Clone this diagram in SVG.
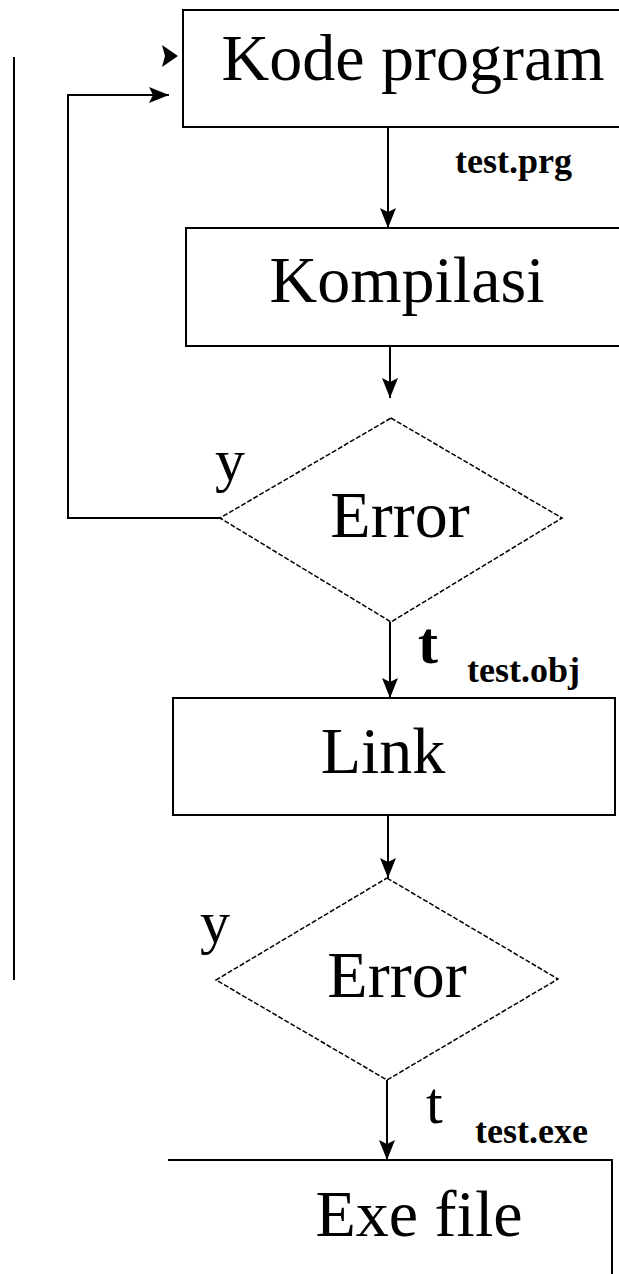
<svg xmlns="http://www.w3.org/2000/svg" width="619" height="1274" viewBox="0 0 619 1274">
  <style>
    .box { fill: #fff; stroke: #000; stroke-width: 2; }
    .dec { fill: #fff; stroke: #000; stroke-width: 1.5; stroke-dasharray: 5 2; }
    .ln { fill: none; stroke: #000; stroke-width: 2; }
    .big { font-family: "Liberation Serif", "Times New Roman", serif; font-size: 66px; fill: #000; text-anchor: middle; }
    .lab { font-family: "Liberation Serif", "Times New Roman", serif; font-size: 60px; fill: #000; }
    .file { font-family: "Liberation Serif", "Times New Roman", serif; font-size: 36px; font-weight: bold; fill: #000; }
  </style>
  <defs>
    <marker id="ah" viewBox="0 0 20 16" refX="20" refY="8" markerWidth="20" markerHeight="16" markerUnits="userSpaceOnUse" orient="auto">
      <path d="M0,0 L20,8 L0,16 L4,8 Z" fill="#000"/>
    </marker>
  </defs>
  <rect width="619" height="1274" fill="#fff"/>

  <g id="connectors">
    <!-- side rule on the far left -->
    <line class="ln" x1="14" y1="57" x2="14" y2="980"/>
    <!-- loose arrowhead beside the first box -->
    <path d="M162,45 L178,56 L162,67 L165,56 Z" fill="#000"/>
    <!-- error loop back to the source step -->
    <polyline class="ln" points="220,518 68,518 68,95 169,95" marker-end="url(#ah)"/>
    <line class="ln" x1="388" y1="127" x2="388" y2="228" marker-end="url(#ah)"/>
    <line class="ln" x1="390" y1="346" x2="390" y2="398" marker-end="url(#ah)"/>
    <line class="ln" x1="390" y1="622" x2="390" y2="698" marker-end="url(#ah)"/>
    <line class="ln" x1="388" y1="815" x2="388" y2="878" marker-end="url(#ah)"/>
    <line class="ln" x1="387" y1="1080" x2="387" y2="1160" marker-end="url(#ah)"/>
  </g>

  <g id="kode-program">
    <rect class="box" x="183" y="10" width="460" height="117"/>
    <text class="big" x="413" y="80">Kode program</text>
  </g>
  <text class="file" x="455" y="173">test.prg</text>

  <g id="kompilasi">
    <rect class="box" x="186" y="228" width="460" height="118"/>
    <text class="big" x="407" y="302">Kompilasi</text>
  </g>

  <g id="error-1">
    <polygon class="dec" points="391,418 562,518 391,622 220,518"/>
    <text class="big" x="400" y="537">Error</text>
  </g>
  <text class="lab" x="215" y="480">y</text>
  <text class="lab" x="418" y="663" font-weight="bold">t</text>
  <text class="file" x="467" y="682">test.obj</text>

  <g id="link">
    <rect class="box" x="173" y="698" width="442" height="117"/>
    <text class="big" x="383" y="773">Link</text>
  </g>

  <g id="error-2">
    <polygon class="dec" points="387,878 558,979 387,1080 216,980"/>
    <text class="big" x="397" y="997">Error</text>
  </g>
  <text class="lab" x="200" y="942">y</text>
  <text class="lab" x="426" y="1123">t</text>
  <text class="file" x="475" y="1143">test.exe</text>

  <g id="exe-file">
    <polyline class="ln" points="168,1160 612,1160 612,1280"/>
    <text class="big" x="419" y="1236">Exe file</text>
  </g>
</svg>
